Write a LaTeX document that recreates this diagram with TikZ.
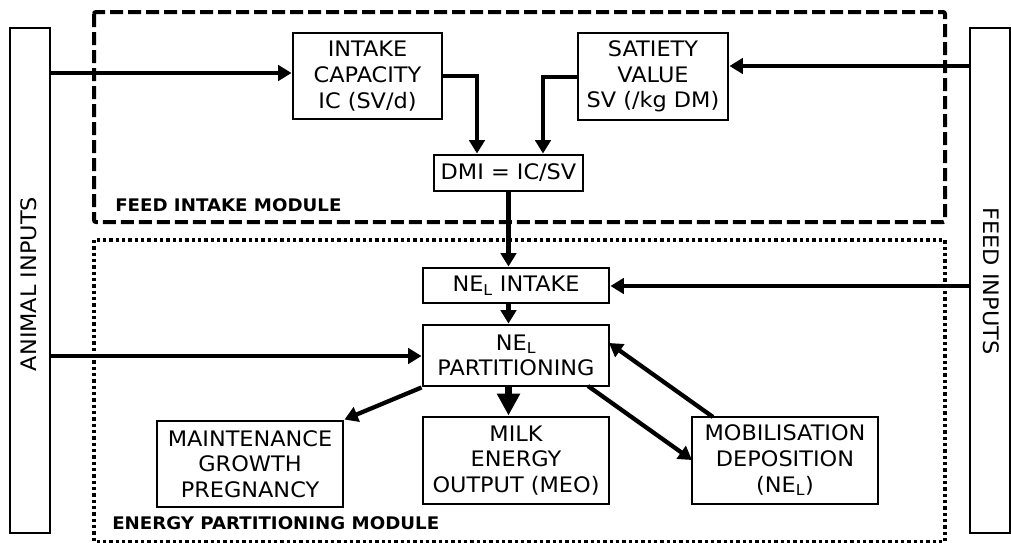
\documentclass[tikz,border=0pt]{standalone}
\usepackage{fontspec}
\setmainfont{DejaVu Sans}[FakeStretch=1.05]
\usetikzlibrary{arrows.meta}
\begin{document}
\begin{tikzpicture}[x=0.75pt,y=-0.75pt,
  box/.style={draw,line width=2.2pt,inner sep=0pt,align=center,
    font=\fontsize{16}{19.3}\selectfont},
  bar/.style={draw,line width=2.2pt,inner sep=0pt,
    minimum width=30pt,minimum height=378.75pt},
  barlabel/.style={font=\fontsize{16}{19.3}\selectfont},
  modlabel/.style={anchor=base west,inner sep=0pt,
    font=\fontsize{13}{15}\selectfont\bfseries},
  arr/.style={line width=3.2pt,-{Triangle[length=10pt,width=11.5pt]}},
  bigarr/.style={line width=5.5pt,-{Triangle[length=16.5pt,width=16.5pt]}},
  intakemod/.style={line width=3pt,dash pattern=on 9.75pt off 3.75pt,rounded corners=1.5pt},
  partmod/.style={line width=2.6pt,dash pattern=on 2.5pt off 2.25pt}]
\useasboundingbox (0,0) rectangle (1011,543);

% module frames
\draw[intakemod] (94,12) rectangle (945,222);
\draw[partmod] (94,240) rectangle (945,541.5);
\node[modlabel] (fimlabel) at (115,211) {FEED INTAKE MODULE};
\node[modlabel] (epmlabel) at (112,529) {ENERGY PARTITIONING MODULE};

% input bars
\node[bar] (ai) at (30,280.5) {};
\node[bar] (fi) at (990,280.5) {};
\node[barlabel,rotate=90] (ailabel) at (29,284) {ANIMAL INPUTS};
\node[barlabel,rotate=-90] (filabel) at (991,281) {FEED INPUTS};

% feed intake boxes
\node[box,minimum width=111.75pt,minimum height=64.5pt] (ic) at (367.5,76) {INTAKE\\CAPACITY\\IC (SV/d)};
\node[box,minimum width=112.5pt,minimum height=65.25pt] (sv) at (653,76.5) {SATIETY\\VALUE\\SV (/kg DM)};
\node[box,minimum width=111.75pt,minimum height=27pt] (dmi) at (508.5,173) {DMI = IC/SV};

% energy partitioning boxes
\node[box,minimum width=139.5pt,minimum height=26.25pt] (nei) at (516,285.5) {NE\textsubscript{L} INTAKE};
\node[box,minimum width=139.5pt,minimum height=45.75pt] (nep) at (516,355.5) {NE\textsubscript{L}\\PARTITIONING};
\node[box,minimum width=139.5pt,minimum height=65.25pt] (milk) at (516,460.5) {MILK\\ENERGY\\OUTPUT (MEO)};
\node[box,minimum width=139.5pt,minimum height=64.5pt] (mgp) at (250,464) {MAINTENANCE\\GROWTH\\PREGNANCY};
\node[box,minimum width=139.5pt,minimum height=65.25pt] (mob) at (785,460.5) {MOBILISATION\\DEPOSITION\\(NE\textsubscript{L})};

% helper points for the connectors
\coordinate (r1) at (0,73);
\coordinate (r2) at (0,66);
\coordinate (b1) at (477,76);
\coordinate (b2) at (543,77);
\coordinate (r3) at (0,286);
\coordinate (r4) at (0,356);
\coordinate (nepout) at (588,386);
\coordinate (mobin) at (692,460);
\coordinate (mobout) at (713,417);
\coordinate (nepin) at (609,343);

% connectors
\draw[arr] (ai.east |- r1) -- (ic.west |- r1);
\draw[arr] (fi.west |- r2) -- (sv.east |- r2);
\draw[arr] (ic.east |- b1) -- (b1) -- (b1 |- dmi.north);
\draw[arr] (sv.west |- b2) -- (b2) -- (b2 |- dmi.north);
\draw[arr] (dmi.south) -- (dmi.south |- nei.north);
\draw[arr] (fi.west |- r3) -- (nei.east |- r3);
\draw[arr] (dmi.south |- nei.south) -- (dmi.south |- nep.north);
\draw[arr] (ai.east |- r4) -- (nep.west |- r4);
\draw[arr] (nep.south west) -- (mgp.north east);
\draw[bigarr] (dmi.south |- nep.south) -- (dmi.south |- milk.north);
\draw[arr] (nepout) -- (mobin);
\draw[arr] (mobout) -- (nepin);
\end{tikzpicture}
\end{document}
